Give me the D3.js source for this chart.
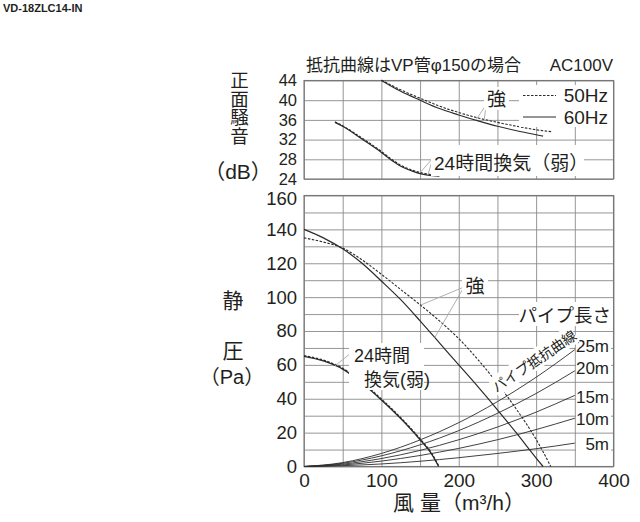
<!DOCTYPE html>
<html>
<head>
<meta charset="utf-8">
<script src="https://cdn.jsdelivr.net/npm/d3@7"></script>
<style>
body { margin: 0; background: #fff; }
text { font-family: "Liberation Sans", "Noto Sans CJK JP", sans-serif; fill: #231f20; }
</style>
</head>
<body>
<script>
var w = 640;
var h = 522;

// tick labels
var xTicks = [0, 100, 200, 300, 400];
var noiseTicks = [24, 28, 32, 36, 40, 44];
var pressureTicks = [0, 20, 40, 60, 80, 100, 120, 140, 160];

// 正面騒音 (dB) vs 風量 (m3/h)
var noiseStrong50 = [[100, 44.1], [125, 42.1], [150, 40.4], [175, 38.8], [200, 37.5], [225, 36.4], [250, 35.5], [275, 34.7], [300, 34.0], [320, 33.6]];
var noiseStrong60 = [[100, 44], [125, 41.8], [150, 40.0], [175, 38.3], [200, 37.0], [225, 35.8], [250, 34.7], [275, 33.8], [300, 33.0], [309, 32.7]];
var noiseWeak50 = [[40, 35.6], [50, 34.8], [75, 32.3], [100, 29.6], [115, 27.8], [125, 26.8], [140, 25.8], [150, 25.3], [160, 25.0], [175, 24.7]];
var noiseWeak60 = [[40, 35.5], [50, 34.7], [75, 32.1], [100, 29.4], [115, 27.6], [125, 26.6], [140, 25.6], [150, 25.1], [160, 24.8], [175, 24.6]];

// 静圧 (Pa) vs 風量 (m3/h)
var presStrong50 = [[0, 135], [25, 132.5], [50, 129], [75, 122], [100, 113.5], [125, 104.5], [150, 95.5], [175, 86], [200, 75.5], [225, 63], [250, 49], [275, 33.5], [300, 16], [319, 0]];
var presStrong60 = [[0, 140], [25, 135], [50, 128.5], [75, 120], [100, 109.5], [125, 98.5], [150, 86], [175, 73], [200, 60], [225, 47], [250, 33.5], [275, 19.5], [300, 5], [309, 0]];
var presWeak50 = [[0, 65.4], [25, 62.8], [50, 58], [75, 49.8], [100, 39.8], [125, 28.8], [150, 16.3], [165, 7.8], [174.5, 0]];
var presWeak60 = [[0, 65], [25, 62.3], [50, 57.5], [75, 49.3], [100, 39.3], [125, 28.3], [150, 15.8], [165, 7.3], [174, 0]];

// パイプ抵抗曲線
var pipeLengths = ["25m", "20m", "15m", "10m", "5m"];
var pipeFlow = [0, 50, 100, 150, 200, 250, 300, 350];
var pipe25 = [0, 2.3, 7.7, 15.7, 25.9, 38.3, 52.7, 69];
var pipe20 = [0, 1.9, 6.3, 12.8, 21.2, 31.4, 43.1, 56.5];
var pipe15 = [0, 1.4, 4.7, 9.5, 15.8, 23.3, 32.1, 42];
var pipe10 = [0, 0.9, 3.2, 6.5, 10.7, 15.8, 21.8, 28.5];
var pipe5 = [0, 0.5, 1.5, 3.1, 5.2, 7.7, 10.5, 13.8];
var pipeSeries = [pipe25, pipe20, pipe15, pipe10, pipe5];

var gridColor = "#8a8a8a";
var lineColor = "#2b2b2b";

var svg = d3.select("body")
    .append("svg")
    .attr("width", w)
    .attr("height", h);

var x = d3.scaleLinear().domain([0, 400]).range([304, 613.5]);
var yNoise = d3.scaleLinear().domain([24, 44]).range([179, 80.5]);
var yPres = d3.scaleLinear().domain([0, 160]).range([466.5, 195.5]);

// model name
svg.append("text")
    .attr("x", 3).attr("y", 12)
    .style("font-size", "11px").style("font-weight", "bold")
    .text("VD-18ZLC14-IN");

// grids
function drawGrid(yScale, yStep) {
    var d = yScale.domain();
    var r = yScale.range();
    svg.append("g")
        .attr("transform", "translate(0," + r[0] + ")")
        .call(d3.axisBottom(x).tickValues(d3.range(0, 401, 50)).tickSize(-(r[0] - r[1])).tickFormat(""))
        .call(function (g) { g.select(".domain").remove(); })
        .selectAll("line").attr("stroke", gridColor).attr("stroke-width", 0.9);
    svg.append("g")
        .attr("transform", "translate(" + x(0) + ",0)")
        .call(d3.axisLeft(yScale).tickValues(d3.range(d[0], d[1] + 0.1, yStep)).tickSize(-(x(400) - x(0))).tickFormat(""))
        .call(function (g) { g.select(".domain").remove(); })
        .selectAll("line").attr("stroke", gridColor).attr("stroke-width", 0.9);
    svg.append("rect")
        .attr("x", x(0)).attr("y", r[1])
        .attr("width", x(400) - x(0)).attr("height", r[0] - r[1])
        .attr("fill", "none").attr("stroke", "#777").attr("stroke-width", 1.1);
}
drawGrid(yNoise, 4);
drawGrid(yPres, 10);

// tick labels
function styleTicks(g, size) {
    g.select(".domain").remove();
    g.selectAll("text").style("font-size", size).style("fill", "#231f20");
}
svg.append("g")
    .attr("transform", "translate(" + x(0) + ",0)")
    .call(d3.axisLeft(yNoise).tickValues(noiseTicks).tickSize(0).tickPadding(7))
    .call(styleTicks, "16.5px");
svg.append("g")
    .attr("transform", "translate(" + x(0) + ",0)")
    .call(d3.axisLeft(yPres).tickValues(pressureTicks).tickSize(0).tickPadding(7))
    .call(styleTicks, "18.5px")
    .selectAll("text").attr("dy", d => d === 160 ? "0.48em" : "0.32em");
svg.append("g")
    .attr("transform", "translate(0," + yPres(0) + ")")
    .call(d3.axisBottom(x).tickValues(xTicks).tickSize(0).tickPadding(7))
    .call(styleTicks, "19px");

// curves
var lineNoise = d3.line().x(d => x(d[0])).y(d => yNoise(d[1])).curve(d3.curveMonotoneX);
var linePres = d3.line().x(d => x(d[0])).y(d => yPres(d[1])).curve(d3.curveMonotoneX);

function drawCurve(gen, data, dashed, width) {
    svg.append("path")
        .attr("d", gen(data))
        .attr("fill", "none")
        .attr("stroke", lineColor)
        .attr("stroke-width", width || 1.1)
        .attr("stroke-dasharray", dashed ? "2.5,1.5" : null);
}

pipeSeries.forEach(function (s) {
    drawCurve(linePres, pipeFlow.map((f, i) => [f, s[i]]), false, 0.9);
});

drawCurve(lineNoise, noiseStrong60, false);
drawCurve(lineNoise, noiseStrong50, true);
drawCurve(lineNoise, noiseWeak60, false, 1.2);
drawCurve(lineNoise, noiseWeak50, true, 1.2);
drawCurve(linePres, presStrong60, false, 1.2);
drawCurve(linePres, presStrong50, true);
drawCurve(linePres, presWeak60, false, 1.3);
drawCurve(linePres, presWeak50, true, 1.3);

// helpers
function box(x0, y0, bw, bh) {
    svg.append("rect")
        .attr("x", x0).attr("y", y0).attr("width", bw).attr("height", bh)
        .attr("fill", "#fff");
}
function label(tx, ty, str, size, anchor) {
    return svg.append("text")
        .attr("x", tx).attr("y", ty)
        .attr("text-anchor", anchor || "start")
        .style("font-size", size)
        .text(str);
}
function leader(x1, y1, x2, y2) {
    svg.append("line")
        .attr("x1", x1).attr("y1", y1).attr("x2", x2).attr("y2", y2)
        .attr("stroke", "#a8a8a8").attr("stroke-width", 0.9);
}
function at(data, fx) {
    for (var i = 1; i < data.length; i++) {
        if (data[i][0] >= fx) {
            var a = data[i - 1], b = data[i];
            return a[1] + (b[1] - a[1]) * (fx - a[0]) / (b[0] - a[0]);
        }
    }
    return data[data.length - 1][1];
}

// title
label(306, 71, "抵抗曲線はVP管φ150の場合", "17px");
label(613, 71, "AC100V", "17px", "end");

// top annotations
leader(486, 105, x(222), yNoise(at(noiseStrong60, 222)));
leader(486, 105, x(233), yNoise(at(noiseStrong50, 233)));
box(484, 87, 25, 23);
label(496.5, 106, "強", "19px", "middle");

box(519, 85, 94, 42);
svg.append("line").attr("x1", 523).attr("x2", 556).attr("y1", 95.5).attr("y2", 95.5)
    .attr("stroke", lineColor).attr("stroke-width", 1).attr("stroke-dasharray", "2.5,1.5");
svg.append("line").attr("x1", 523).attr("x2", 556).attr("y1", 117).attr("y2", 117)
    .attr("stroke", lineColor).attr("stroke-width", 1);
label(608, 102, "50Hz", "19px", "end");
label(608, 123.5, "60Hz", "19px", "end");

leader(433, 158, x(150), yNoise(at(noiseWeak50, 150)));
leader(433, 158, x(160), yNoise(at(noiseWeak60, 160)));
box(431, 145, 153, 31);
label(434, 170, "24時間換気（弱）", "19px");

// bottom annotations
leader(464, 287, x(150.6), yPres(at(presStrong50, 150.6)));
leader(464, 287, x(169), yPres(at(presStrong60, 169)));
box(462, 276, 26, 21);
label(475, 293, "強", "19px", "middle");

leader(351, 353, x(40), yPres(at(presWeak60, 40)));
box(349, 343, 75, 47);
label(354, 362, "24時間", "18px");
label(364, 386, "換気(弱)", "18px");

box(519, 302, 94, 24);
label(611, 322, "パイプ長さ", "18.5px", "end");

var pipeLabelY = [352, 374, 403, 425, 450];
pipeLengths.forEach(function (p, i) {
    box(576, pipeLabelY[i] - 15, 35, 19);
    label(609, pipeLabelY[i], p, "17px", "end");
});

var rot = svg.append("g").attr("transform", "translate(534,361) rotate(-34)");
rot.append("rect").attr("x", -49).attr("y", -10.5).attr("width", 98).attr("height", 20).attr("fill", "#fff");
rot.append("text").attr("x", 0).attr("y", 5.5).attr("text-anchor", "middle")
    .style("font-size", "14px").text("パイプ抵抗曲線");

// axis titles
svg.append("text")
    .attr("x", 238).attr("y", 71)
    .style("writing-mode", "vertical-rl")
    .style("font-size", "18.5px")
    .text("正面騒音");
label(238, 179, "（dB）", "21px", "middle");

label(233, 308, "静", "21px", "middle");
label(233, 358, "圧", "21px", "middle");
label(232, 384, "（Pa）", "20px", "middle");

label(459, 510, "風 量（m³/h）", "21px", "middle");
</script>
</body>
</html>
